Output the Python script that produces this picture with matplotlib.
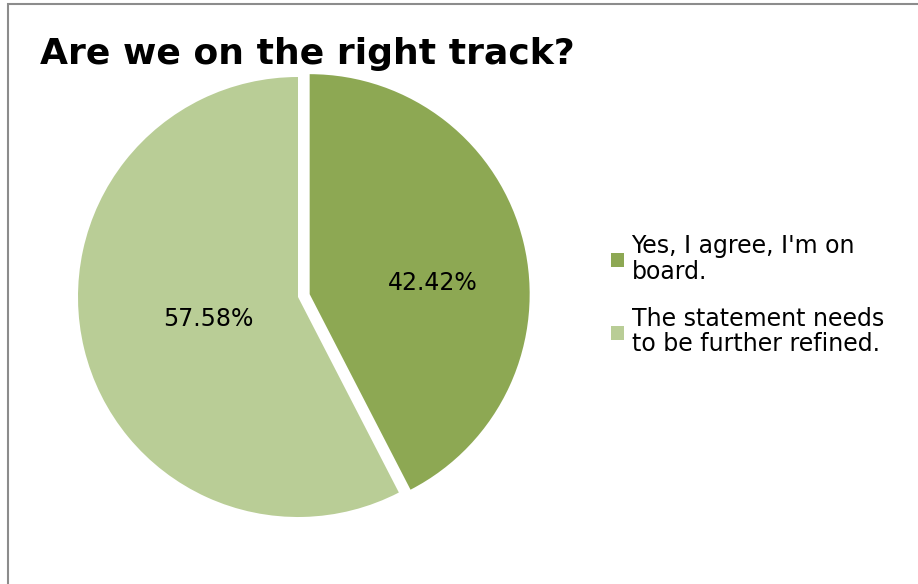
import matplotlib
matplotlib.use('Agg')
import matplotlib.pyplot as plt
import matplotlib.patches as mpatches

# data
labels = ["Yes, I agree, I'm on\nboard.", "The statement needs\nto be further refined."]
shares = [42.42, 57.58]
colors = ['#8da853', '#b9cd96']
title = "Are we on the right track?"

W, H = 918, 584
fig = plt.figure(figsize=(W / 100, H / 100), dpi=100)
fig.patch.set_facecolor('white')

# axes in pixel units, origin bottom-left
ax = fig.add_axes([0, 0, 1, 1])

# explode is in data units here (pixels)
wedges, texts, autotexts = ax.pie(shares, colors=colors, startangle=90, counterclock=False,
                                  explode=[12, 0], center=(298, H - 297), radius=220,
                                  autopct='%.2f%%', pctdistance=0.42,
                                  wedgeprops=dict(linewidth=0),
                                  textprops=dict(fontsize=17, color='black', family='DejaVu Sans'))
# excel-style placement of the first label
autotexts[0].set_position((433, H - 283))

ax.set_xlim(0, W)
ax.set_ylim(0, H)
ax.set_aspect('equal')
ax.axis('off')

# chart border (only left and top visible)
fig.patches.append(mpatches.Rectangle((7.5 / W, -0.1), 1.2, (H - 4.5) / H + 0.1,
                                      transform=fig.transFigure, fill=False,
                                      edgecolor='#8c8c8c', linewidth=1.5))

fig.text(40 / W, 1 - 54 / H, title, fontsize=26, fontweight='bold', va='center', ha='left')

handles = [mpatches.Patch(facecolor=c, edgecolor='none') for c in colors]
leg = fig.legend(handles, labels, loc='upper left', bbox_to_anchor=(602 / W, 1 - 225 / H),
                 frameon=False, fontsize=17, handlelength=0.55, handleheight=0.55,
                 handletextpad=0.3, labelspacing=1.0, borderaxespad=0)
for t in leg.get_texts():
    t.set_linespacing(1.06)

plt.savefig('out.png', dpi=100)
